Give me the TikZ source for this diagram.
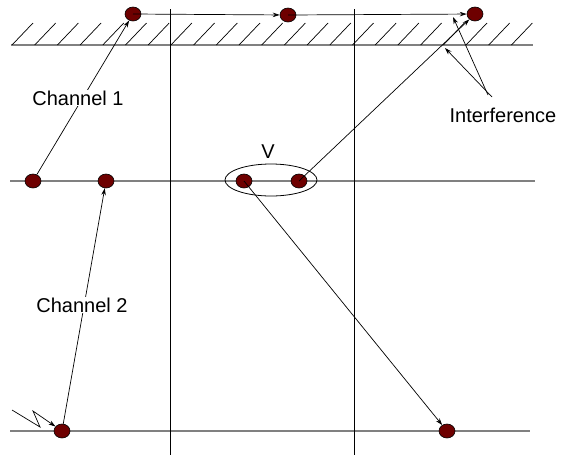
\documentclass[tikz,border=0pt]{standalone}
\usepackage{fontspec}
\setmainfont{Liberation Sans}
\usetikzlibrary{arrows.meta,shapes.geometric}
\definecolor{dotred}{HTML}{6E0000}
\begin{document}
\begin{tikzpicture}[x=1pt,y=-1pt,
  dot/.style={ellipse,draw=black,line width=0.6pt,fill=dotred,minimum width=16pt,minimum height=14pt,inner sep=0pt},
  axis/.style={draw=black!50,line width=1.4pt},
  vline/.style={draw=black,line width=0.8pt},
  conn/.style={draw=black,line width=0.7pt},
  arr/.style={conn,-{Stealth[length=7pt,width=4.5pt]}},
  lbl/.style={font=\fontsize{20}{24}\selectfont,inner sep=1pt},
  lblw/.style={lbl,fill=white}]
\useasboundingbox (0,0) rectangle (563,459);
% horizontal lines
\draw[axis] (10,181) -- (535,181);
\draw[axis] (10,431) -- (530,431);
\draw[axis] (11,45) -- (533,45);
% hatching
\foreach \k in {0,...,22} \draw[conn] ({12+\k*22.7},45) -- ({33+\k*22.7},23);
% vertical lines
\draw[vline] (170,9) -- (170,455);
\draw[vline] (354,9) -- (354,455);
% V group
\node[ellipse,draw=black,line width=0.8pt,minimum width=92pt,minimum height=32pt] (grp) at (271,180) {};
\node[lbl] (vlab) at (268,152) {V};
% nodes
\node[dot] (t1) at (133,14) {};
\node[dot] (t2) at (288,15) {};
\node[dot] (t3) at (475,14) {};
\node[dot] (m1) at (33,181) {};
\node[dot] (m2) at (106,181) {};
\node[dot] (m3) at (244,181) {};
\node[dot] (m4) at (299,181) {};
\node[dot] (b1) at (62,431) {};
\node[dot] (b2) at (447,431) {};
% connectors
\draw[arr] (t1.center) -- (t2);
\draw[arr] (t2.center) -- (t3);
\draw[arr] (m1) -- (t1);
\draw[arr] (b1) -- (m2);
\draw[arr] (m4.center) -- (t3);
\draw[arr] (m3.center) -- (b2);
% labels
\node[lblw] (c1) at (78,98) {Channel 1};
\node[lblw] (c2) at (82,305) {Channel 2};
\node[lbl] (intf) at (503,115) {Interference};
\coordinate (i1) at (445,48);
\coordinate (i2) at (453,17);
\coordinate (s1) at (492,97);
\coordinate (s2) at (488,95);
\draw[arr] (s1) -- (i1);
\draw[arr] (s2) -- (i2);
% lightning
\coordinate (z0) at (12,410);
\coordinate (z1) at (40,427);
\coordinate (z2) at (33,411);
\draw[arr] (z0) -- (z1) -- (z2) -- (b1);
\end{tikzpicture}
\end{document}
